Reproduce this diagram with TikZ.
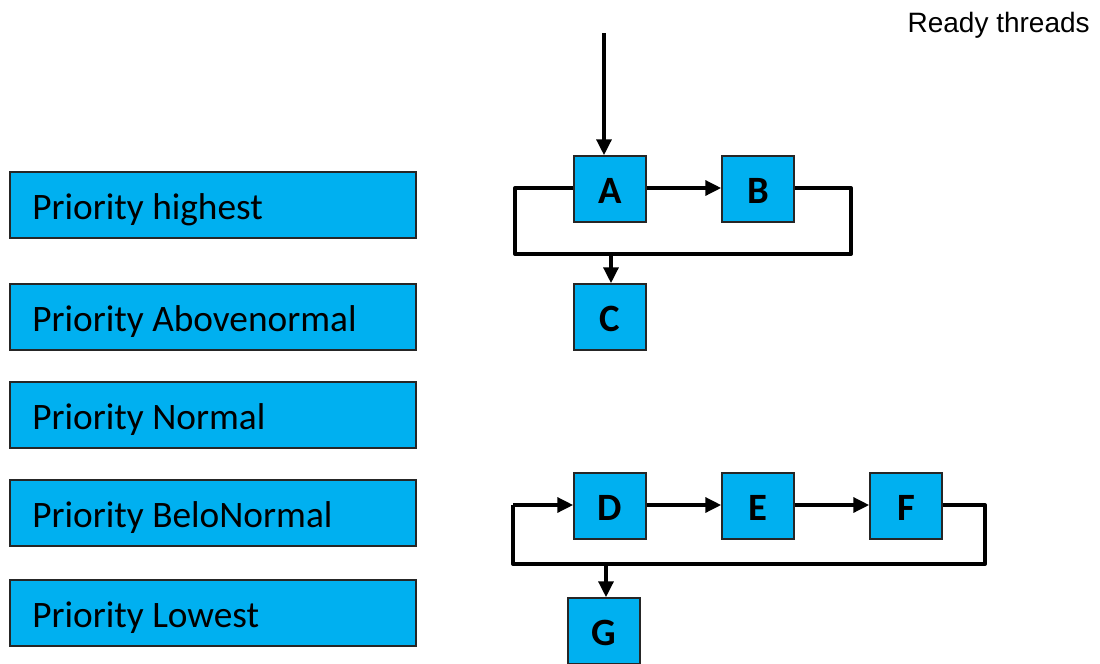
\documentclass[tikz,border=0pt]{standalone}
\usepackage{fontspec}
\setmainfont{Carlito}
\newfontfamily\arialfont{Liberation Sans}
\usetikzlibrary{arrows.meta}
\definecolor{boxblue}{HTML}{00B0F0}
\tikzset{
  prio/.style={draw=black!85, line width=1pt, fill=boxblue, minimum width=304.5pt, minimum height=49.5pt, inner sep=0pt},
  prlabel/.style={anchor=west, inner sep=0pt, text height=18pt, text depth=0pt, font=\fontsize{28}{28}\selectfont},
  thr/.style={draw=black!85, line width=1pt, fill=boxblue, minimum width=54pt, minimum height=49.5pt, inner sep=0pt, text height=21pt, text depth=0pt, font=\fontsize{29}{29}\selectfont\bfseries},
  link/.style={line width=3pt, line join=round},
  arr/.style={link, -{Triangle[length=12pt,width=11pt]}}
}
\begin{document}
\begin{tikzpicture}[x=0.75pt,y=-0.75pt]
\useasboundingbox (0,0) rectangle (1100,664);

% priority levels
\foreach \n/\y/\t in {p1/205/Priority highest, p2/317/Priority Abovenormal, p3/415/Priority Normal, p4/513/Priority BeloNormal, p5/613/Priority Lowest}{
  \node[prio] (\n) at (213,\y) {};
  \node[prlabel] (\n t) at (32,\y+2.5) {\t};
}

\node[anchor=east, inner sep=0pt, text height=14.5pt, text depth=0pt, font=\arialfont\fontsize{21}{21}\selectfont] (title) at (1090,23) {Ready threads};

% threads
\node[thr] (A) at (610,189) {A};
\node[thr] (B) at (758,189) {B};
\node[thr] (C) at (610,317) {C};
\node[thr] (D) at (610,506) {D};
\node[thr] (E) at (758,506) {E};
\node[thr] (F) at (906,506) {F};
\node[thr] (G) at (604,631) {G};

\coordinate (in) at (604,33);
\coordinate (l1) at (515,188);
\coordinate (l2) at (515,254);
\coordinate (l3) at (851,254);
\coordinate (l4) at (851,188);
\coordinate (m1) at (611,254);
\coordinate (k1) at (513,505);
\coordinate (k2) at (513,564);
\coordinate (k3) at (985,564);
\coordinate (k4) at (985,505);
\coordinate (n1) at (606,564);

% upper queue
\draw[arr] (in) -- (A.north -| in);
\draw[arr] (A.east |- l1) -- (B.west |- l1);
\draw[link] (A.west |- l1) -- (l1) -- (l2) -- (l3) -- (l4) -- (B.east |- l4);
\draw[arr] (m1) -- (C.north -| m1);

% lower queue
\draw[arr] (k1) -- (D.west |- k1);
\draw[arr] (D.east |- k1) -- (E.west |- k1);
\draw[arr] (E.east |- k1) -- (F.west |- k1);
\draw[link] (F.east |- k4) -- (k4) -- (k3) -- (k2) -- (k1);
\draw[arr] (n1) -- (G.north -| n1);
\end{tikzpicture}
\end{document}
